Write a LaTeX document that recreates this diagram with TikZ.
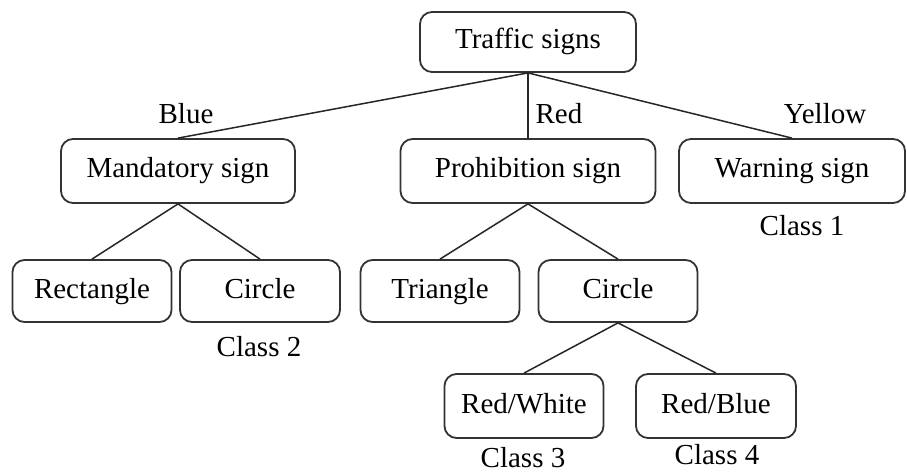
\documentclass[tikz,border=0pt]{standalone}
\usepackage{fontspec}
\setmainfont{Liberation Serif}
\usepackage{tikz}

\begin{document}
\begin{tikzpicture}[x=1pt, y=-1pt,
    box/.style={draw=black!80, line width=1.8pt, rounded corners=12pt, inner sep=0pt,
      text height=20pt, text depth=6pt, font=\fontsize{29}{34}\selectfont},
    lbl/.style={font=\fontsize{29}{34}\selectfont, inner sep=0pt},
    conn/.style={line width=1.5pt, draw=black!85}]
    \useasboundingbox (0, 0) rectangle (907, 473);
    % boxes
    \node[box, minimum width=216pt, minimum height=60pt] (ts) at (528, 42) {Traffic signs};
    \node[box, minimum width=234pt, minimum height=64pt] (man) at (178, 171) {Mandatory sign};
    \node[box, minimum width=255pt, minimum height=64pt] (pro) at (528, 171) {Prohibition sign};
    \node[box, minimum width=226pt, minimum height=64pt] (war) at (792, 171) {Warning sign};
    \node[box, minimum width=159pt, minimum height=62pt] (rect) at (92, 291) {Rectangle};
    \node[box, minimum width=160pt, minimum height=62pt] (cirl) at (260, 291) {Circle};
    \node[box, minimum width=159pt, minimum height=62pt] (tri) at (440, 291) {Triangle};
    \node[box, minimum width=159pt, minimum height=62pt] (cirr) at (618, 291) {Circle};
    \node[box, minimum width=159pt, minimum height=64pt] (rw) at (524, 406) {Red/White};
    \node[box, minimum width=160pt, minimum height=64pt] (rb) at (716, 406) {Red/Blue};
    % labels
    \node[lbl] (blue) at (186, 114) {Blue};
    \node[lbl] (red) at (559, 114) {Red};
    \node[lbl] (yellow) at (825, 114) {Yellow};
    \node[lbl] (c1) at (802, 226) {Class 1};
    \node[lbl] (c2) at (259, 347) {Class 2};
    \node[lbl] (c3) at (523, 458) {Class 3};
    \node[lbl] (c4) at (717, 455) {Class 4};
    % lines
    \draw[conn] (ts.south) -- (man.north);
    \draw[conn] (ts.south) -- (pro.north);
    \draw[conn] (ts.south) -- (war.north);
    \draw[conn] (man.south) -- (rect.north);
    \draw[conn] (man.south) -- (cirl.north);
    \draw[conn] (pro.south) -- (tri.north);
    \draw[conn] (pro.south) -- (cirr.north);
    \draw[conn] (cirr.south) -- (rw.north);
    \draw[conn] (cirr.south) -- (rb.north);
\end{tikzpicture}
\end{document}
